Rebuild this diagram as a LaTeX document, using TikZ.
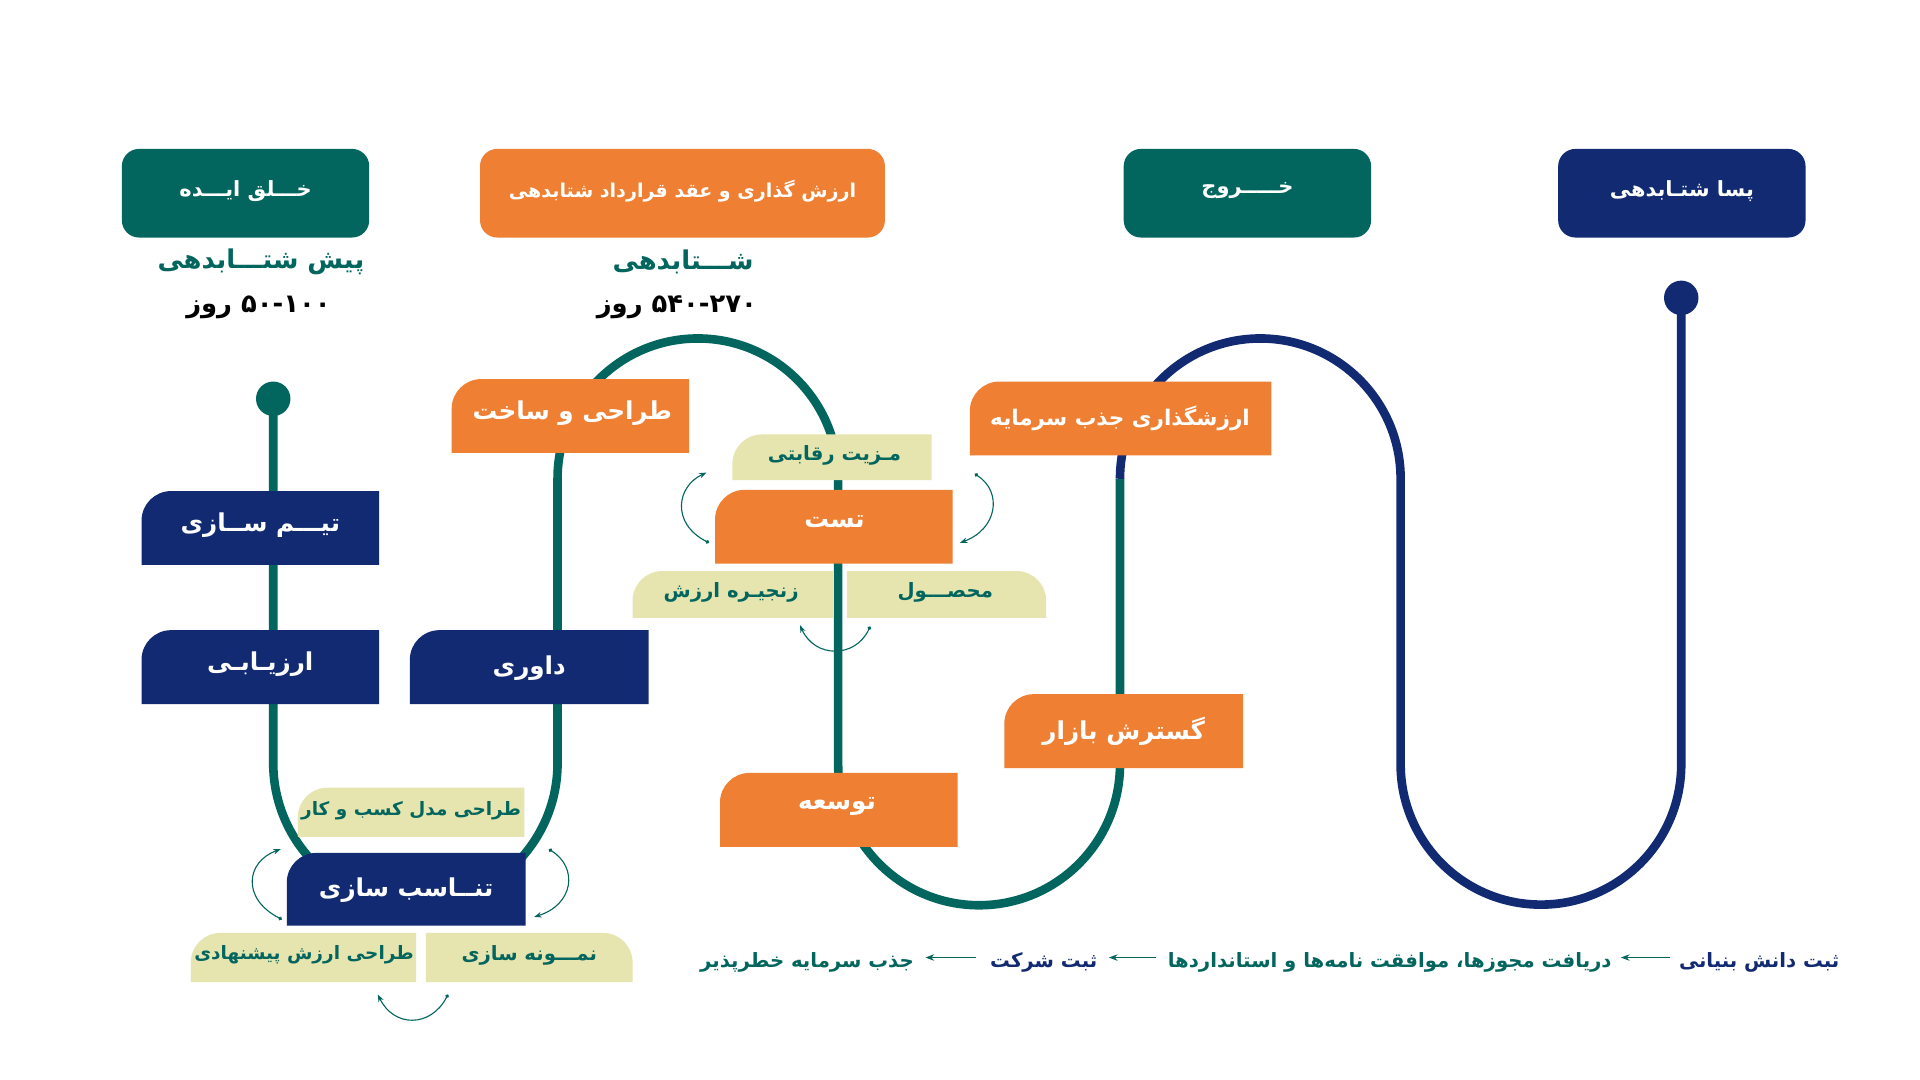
\documentclass[tikz,border=0pt]{standalone}
\usepackage{fontspec}
\usetikzlibrary{arrows.meta}
\TeXXeTstate=1
\newfontfamily\ar[Script=Arabic]{DejaVu Sans}
\definecolor{tealc}{HTML}{03665E}
\definecolor{orangec}{HTML}{EE7F33}
\definecolor{navyc}{HTML}{112A72}
\definecolor{creamc}{HTML}{E6E5B0}
\newcommand\RL[1]{\beginR #1\endR}
\newcommand\boxTL[5]{\fill[#1] (#2,#5) [rounded corners=24pt] -- (#2,#3) [sharp corners] -- (#4,#3) -- (#4,#5) -- cycle;}
\newcommand\boxTR[5]{\fill[#1] (#2,#5) -- (#2,#3) [rounded corners=24pt] -- (#4,#3) [sharp corners] -- (#4,#5) -- cycle;}
\begin{document}
\begin{tikzpicture}[x=1pt,y=-1pt,
  big/.style={text=white,font=\ar\bfseries\fontsize{20}{24}\selectfont},
  top/.style={text=white,font=\ar\bfseries\fontsize{17}{22}\selectfont},
  sm/.style={text=tealc,font=\ar\bfseries\fontsize{16}{18}\selectfont},
  bot/.style={font=\ar\bfseries\fontsize{16}{18}\selectfont},
  sub/.style={font=\ar\bfseries\fontsize{21}{24}\selectfont},
  sarrow/.style={tealc,line width=0.9pt,{Circle[length=3pt]}-{Stealth[length=6pt]}},
  larrow/.style={tealc,line width=0.9pt,-{Stealth[length=7pt]}}]
\useasboundingbox (0,0) rectangle (1560,877.5);
\fill[white] (0,0) rectangle (1560,877.5);
% main path
\draw[tealc,line width=7pt] (222,324) -- (222,620) arc(180:0:115.5) -- (453,389) arc(180:360:114) -- (681,621) arc(180:0:114.5) -- (910,389);
\draw[navyc,line width=7pt] (910,389) arc(180:360:114) -- (1138,621) arc(180:0:114) -- (1366,242);
\fill[tealc] (222,324) circle (14);
\fill[navyc] (1366,242) circle (14);
% top boxes
\fill[tealc,rounded corners=14pt] (99,121) rectangle (300,193);
\node[top] (t1) at (199.5,155) {\RL{خـــلق ایـــده}};
\fill[orangec,rounded corners=14pt] (390,121) rectangle (719,193);
\node[top,font=\ar\bfseries\fontsize{15.5}{20}\selectfont] (t2) at (554.5,155) {\RL{ارزش گذاری و عقد قرارداد شتابدهی}};
\fill[tealc,rounded corners=14pt] (913,121) rectangle (1114,193);
\node[top] (t3) at (1013.5,155) {\RL{خـــــروج}};
\fill[navyc,rounded corners=14pt] (1266,121) rectangle (1467,193);
\node[top] (t4) at (1366.5,155) {\RL{پسا شتـابدهی}};
% subtitles
\node[sub,text=tealc] (s1) at (212,213) {\RL{پیش شتـــابدهی}};
\node[sub] (s2) at (210,250) {\beginL\RL{روز}\ ۵۰-۱۰۰\endL};
\node[sub,text=tealc] (s3) at (555,213) {\RL{شـــتابدهی}};
\node[sub] (s4) at (550,250) {\beginL\RL{روز}\ ۵۴۰-۲۷۰\endL};
% navy boxes
\boxTL{navyc}{115}{399}{308}{459}\node[big] (b1) at (211.5,427) {\RL{تیـــم ســازی}};
\boxTL{navyc}{115}{512}{308}{572}\node[big] (b2) at (211.5,540) {\RL{ارزیـابـی}};
\boxTL{navyc}{333}{512}{527}{572}\node[big] (b3) at (430,543) {\RL{داوری}};
\boxTL{navyc}{233}{693}{427}{752}\node[big] (b4) at (330,723) {\RL{تنــاسب سازی}};
% orange boxes
\boxTL{orangec}{367}{308}{560}{368}\node[big] (o1) at (465,336) {\RL{طراحی و ساخت}};
\boxTL{orangec}{581}{398}{774}{458}\node[big] (o2) at (678,424) {\RL{تست}};
\boxTL{orangec}{585}{628}{778}{688}\node[big] (o3) at (680,655) {\RL{توسعه}};
\boxTL{orangec}{788}{310}{1033}{370}\node[big,font=\ar\bfseries\fontsize{17.5}{22}\selectfont] (o4) at (910,340) {\RL{ارزشگذاری جذب سرمایه}};
\boxTL{orangec}{816}{564}{1010}{624}\node[big] (o5) at (913,594) {\RL{گسترش بازار}};
% cream boxes
\boxTL{creamc}{595}{353}{757}{390}\node[sm] (c1) at (678,370) {\RL{مـزیت رقابتی}};
\boxTL{creamc}{514}{464}{677}{502}\node[sm] (c2) at (594,481) {\RL{زنجیـره ارزش}};
\boxTR{creamc}{688}{464}{850}{502}\node[sm] (c3) at (768,481) {\RL{محصـــول}};
\boxTL{creamc}{242}{640}{426}{680}\node[sm,font=\ar\bfseries\fontsize{15}{18}\selectfont] (c4) at (334,659) {\RL{طراحی مدل کسب و کار}};
\boxTL{creamc}{155}{758}{338}{798}\node[sm,font=\ar\bfseries\fontsize{15}{18}\selectfont] (c5) at (247,776) {\RL{طراحی ارزش پیشنهادی}};
\boxTR{creamc}{346}{758}{514}{798}\node[sm] (c6) at (430,776) {\RL{نمـــونه سازی}};
% small cycle arrows
\draw[sarrow] (229,747) .. controls (196,730) and (200,700) .. (228,690);
\draw[sarrow] (446,690) .. controls (470,705) and (466,735) .. (434,745);
\draw[sarrow] (364,808) .. controls (350,835) and (320,835) .. (307,808);
\draw[sarrow] (576,441) .. controls (545,425) and (550,395) .. (574,384);
\draw[sarrow] (792,385) .. controls (815,400) and (810,430) .. (780,441);
\draw[sarrow] (707,509) .. controls (695,535) and (662,535) .. (650,508);
% bottom sequence
\node[bot,text=navyc,anchor=east] (f1) at (1498,782) {\RL{ثبت دانش بنیانی}};
\node[bot,text=tealc,anchor=east] (f2) at (1313,782) {\RL{دریافت مجوزها، موافقت نامه‌ها و استانداردها}};
\node[bot,text=navyc,anchor=east] (f3) at (895,782) {\RL{ثبت شرکت}};
\node[bot,text=tealc,anchor=east] (f4) at (746,782) {\RL{جذب سرمایه خطرپذیر}};
\draw[larrow] ([xshift=-4pt,yshift=4pt]f1.west) -- ([xshift=4pt,yshift=4pt]f2.east);
\draw[larrow] ([xshift=-6pt,yshift=4pt]f2.west) -- ([xshift=6pt,yshift=4pt]f3.east);
\draw[larrow] ([xshift=-8pt,yshift=4pt]f3.west) -- ([xshift=6pt,yshift=4pt]f4.east);
\end{tikzpicture}
\end{document}
